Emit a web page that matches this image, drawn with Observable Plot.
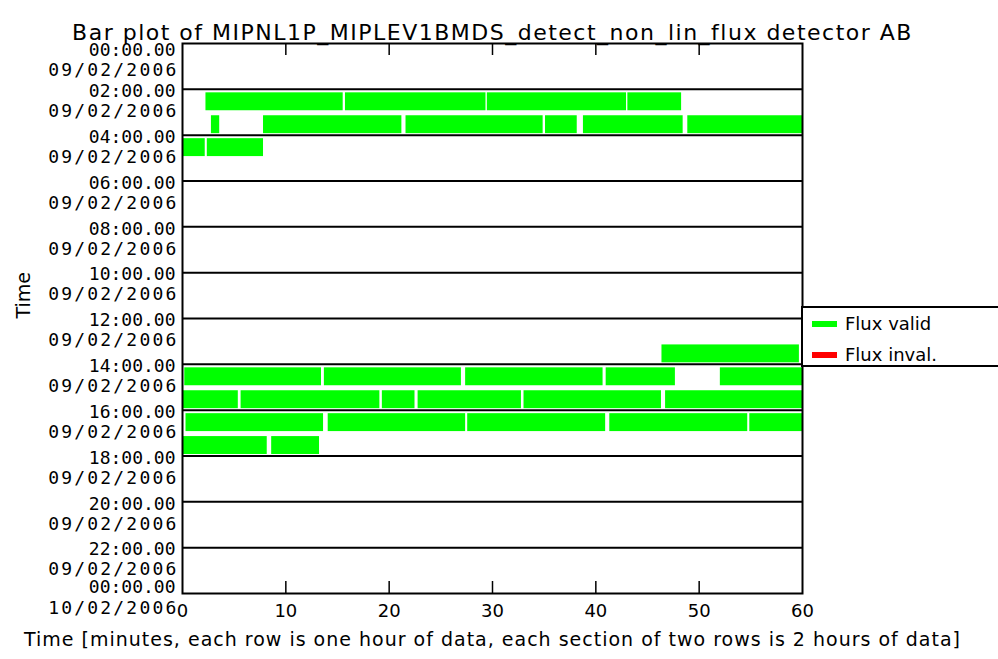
<!DOCTYPE html>
<html>
<head>
<meta charset="utf-8">
<script src="https://cdn.jsdelivr.net/npm/d3@7"></script>
<script src="https://cdn.jsdelivr.net/npm/@observablehq/plot@0.6"></script>
<style>
  html, body { margin: 0; padding: 0; background: #fff; overflow: hidden; }
  #wrap { position: relative; width: 998px; height: 659px; }
  text[aria-label="chart-title"] { letter-spacing: 1.5px; }
  text[aria-label="date-labels"] { letter-spacing: 2.2px; }
  text[aria-label="x-title"] { letter-spacing: 1px; }
  #legend {
    position: absolute; left: 801px; top: 306px; width: 220px; height: 61px;
    border: 2px solid #000; box-sizing: border-box; background: #fff;
    font-family: "DejaVu Sans", sans-serif; font-size: 18px; color: #000;
  }
  #legend .row { position: absolute; left: 9px; height: 22px; line-height: 22px; white-space: nowrap; }
  #legend .sw { display: inline-block; width: 25px; height: 6px; vertical-align: middle; margin-right: 8px; position: relative; top: -1px; }
</style>
</head>
<body>
<div id="wrap"></div>
<script>
// ---- data ----
const chartTitle = "Bar plot of MIPNL1P_MIPLEV1BMDS_detect_non_lin_flux detector AB";
const xTitle = "Time [minutes, each row is one hour of data, each section of two rows is 2 hours of data]";
const yTitle = "Time";

const legendLabels = ["Flux valid", "Flux inval."];
const legendColors = ["#00ff00", "#ff0000"];

// hour rows (0 = 00:00-01:00 on 09/02/2006) that contain valid-flux bars
const validRowHours = [2, 3, 4, 13, 14, 15, 16, 17];
// [start minute, end minute] segments for each of those rows
const validRowSegments = [
  [[2.27, 15.55], [15.77, 29.37], [29.5, 42.97], [43.1, 48.3]],
  [[2.8, 3.6], [7.84, 21.23], [21.63, 34.9], [35.13, 38.2], [38.8, 48.45], [48.9, 60]],
  [[0, 2.2], [2.4, 7.84]],
  [[46.4, 59.7]],
  [[0.22, 13.45], [13.73, 26.99], [27.4, 40.7], [41.0, 47.7], [52.05, 60]],
  [[0, 5.4], [5.67, 19.1], [19.34, 22.5], [22.8, 32.8], [33.05, 46.35], [46.75, 60]],
  [[0.34, 13.65], [14.1, 27.4], [27.6, 40.95], [41.35, 54.7], [54.9, 60]],
  [[0, 8.2], [8.63, 13.26]]
];
// no invalid-flux segments in this plot
const invalidRowHours = [];
const invalidRowSegments = [];

// section boundaries (every 2 hours) and their two-line labels
const sectionHours = [0, 2, 4, 6, 8, 10, 12, 14, 16, 18, 20, 22, 24];
const sectionTimeLabels = ["00:00.00", "02:00.00", "04:00.00", "06:00.00", "08:00.00", "10:00.00",
  "12:00.00", "14:00.00", "16:00.00", "18:00.00", "20:00.00", "22:00.00", "00:00.00"];
const sectionDateLabels = ["09/02/2006", "09/02/2006", "09/02/2006", "09/02/2006", "09/02/2006", "09/02/2006",
  "09/02/2006", "09/02/2006", "09/02/2006", "09/02/2006", "09/02/2006", "09/02/2006", "10/02/2006"];

const xTickValues = [0, 10, 20, 30, 40, 50, 60];
const xInnerTicks = [10, 20, 30, 40, 50];

// ---- build tables ----
const segments = [];
validRowHours.forEach((h, i) => validRowSegments[i].forEach(([s, e]) => segments.push({hour: h, start: s, end: e, status: legendLabels[0]})));
invalidRowHours.forEach((h, i) => invalidRowSegments[i].forEach(([s, e]) => segments.push({hour: h, start: s, end: e, status: legendLabels[1]})));

const labels = sectionHours.map((h, i) => ({h, time: sectionTimeLabels[i], date: sectionDateLabels[i]}));
const topLab = labels.filter(d => d.h === 0);
const midLab = labels.filter(d => d.h > 0 && d.h < 24);
const botLab = labels.filter(d => d.h === 24);

const SANS = '"DejaVu Sans", sans-serif';
const MONO = '"DejaVu Sans Mono", monospace';

const labelMarks = [];
[[topLab, 7, 27], [midLab, 2, 22], [botLab, -6, 15]].forEach(([data, dyT, dyD]) => {
  labelMarks.push(Plot.text(data, {y: "h", text: "time", frameAnchor: "left", textAnchor: "end", dx: -7, dy: dyT, fill: "#000", fontSize: 18, fontFamily: MONO, ariaLabel: () => "time-labels"}));
  labelMarks.push(Plot.text(data, {y: "h", text: "date", frameAnchor: "left", textAnchor: "end", dx: -4, dy: dyD, fill: "#000", fontSize: 18, fontFamily: MONO, ariaLabel: () => "date-labels"}));
});

const chart = Plot.plot({
  width: 998,
  height: 659,
  marginLeft: 182,
  marginRight: 196,
  marginTop: 43,
  marginBottom: 66,
  style: {background: "#fff", color: "#000", fontFamily: SANS, fontSize: "18px", overflow: "visible"},
  x: {domain: [0, 60], axis: null},
  y: {domain: [0, 24], reverse: true, axis: null},
  color: {domain: legendLabels, range: legendColors},
  marks: [
    Plot.rect(segments, {x1: "start", x2: "end", y1: "hour", y2: d => d.hour + 1, fill: "status", insetTop: 3.5, insetBottom: 1.5}),
    Plot.ruleY(sectionHours.filter(h => h > 0 && h < 24), {stroke: "#000", strokeWidth: 2}),
    Plot.frame({stroke: "#000", strokeWidth: 2}),
    Plot.axisX({anchor: "bottom", ticks: xInnerTicks, tickSize: -12, fill: "none", stroke: "#000", strokeWidth: 1.5, label: null}),
    Plot.axisX({anchor: "top", ticks: xInnerTicks, tickSize: -11, fill: "none", stroke: "#000", strokeWidth: 1.5, label: null}),
    Plot.text(xTickValues, {x: d => d, text: d => String(d), frameAnchor: "bottom", dy: 23, fill: "#000", fontSize: 18, fontFamily: SANS}),
    ...labelMarks,
    Plot.text([chartTitle], {text: d => d, frameAnchor: "top", dy: -19, fill: "#000", fontSize: 22, fontFamily: SANS, ariaLabel: () => "chart-title"}),
    Plot.text([xTitle], {text: d => d, frameAnchor: "bottom", dy: 52, fill: "#000", fontSize: 19, fontFamily: SANS, ariaLabel: () => "x-title"}),
    Plot.text([yTitle], {text: d => d, frameAnchor: "left", dx: -159, rotate: -90, fill: "#000", fontSize: 19, fontFamily: SANS})
  ]
});
const wrap = document.getElementById("wrap");
wrap.appendChild(chart);

// legend (HTML, right of the plot)
const legend = document.createElement("div");
legend.id = "legend";
legendLabels.forEach((lab, i) => {
  const row = document.createElement("div");
  row.className = "row";
  row.style.top = (5 + i * 31) + "px";
  const sw = document.createElement("span");
  sw.className = "sw";
  sw.style.background = legendColors[i];
  row.appendChild(sw);
  row.appendChild(document.createTextNode(lab));
  legend.appendChild(row);
});
wrap.appendChild(legend);
</script>
</body>
</html>
